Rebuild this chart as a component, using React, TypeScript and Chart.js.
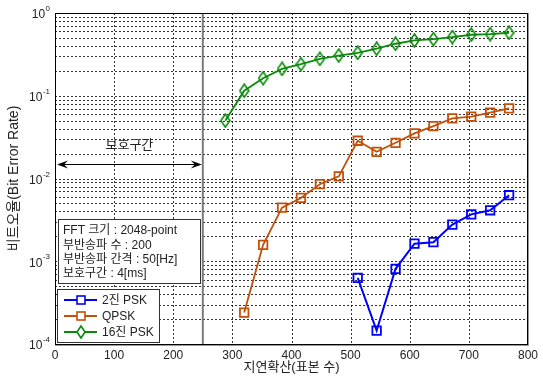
import React, { useEffect, useRef } from 'react';
import { Chart, registerables } from 'chart.js';

Chart.register(...registerables);

// ---------- data ----------
const psk2Delay = [512, 544, 576, 608, 640, 672, 704, 736, 768];
const psk2Ber = [0.00063, 0.000145, 0.00081, 0.00163, 0.0017, 0.00277, 0.00369, 0.00413, 0.00628];

const qpskDelay = [320, 352, 384, 416, 448, 480, 512, 544, 576, 608, 640, 672, 704, 736, 768];
const qpskBer = [0.00024, 0.00158, 0.00445, 0.00582, 0.00853, 0.0106, 0.0286, 0.021, 0.027, 0.0351, 0.043, 0.0533, 0.0558, 0.0624, 0.0705];

const psk16Delay = [288, 320, 352, 384, 416, 448, 480, 512, 544, 576, 608, 640, 672, 704, 736, 768];
const psk16Ber = [0.05, 0.115, 0.163, 0.211, 0.241, 0.279, 0.306, 0.33, 0.37, 0.425, 0.466, 0.484, 0.512, 0.546, 0.556, 0.577];

const seriesNames = ['2진 PSK', 'QPSK', '16진 PSK'];
const seriesColors = ['#0000ff', '#c0500a', '#0a8a0a'];

const xTickValues = [0, 100, 200, 300, 400, 500, 600, 700, 800];
const yDecadeExponents = [0, -1, -2, -3, -4];

const xTitle = '지연확산(표본 수)';
const yTitle = '비트오율(Bit Error Rate)';

const infoLines = ['FFT 크기 : 2048-point', '부반송파 수 : 200', '부반송파 간격 : 50[Hz]', '보호구간 : 4[ms]'];
const guardLabel = '보호구간';
const guardEnd = 250;
const guardArrowBer = 0.015;
const guardLabelBer = 0.025;

const FONT = "'Liberation Sans', Arial, 'Noto Sans CJK KR', sans-serif";

function makeDiamond(color: string): HTMLCanvasElement {
  const c = document.createElement('canvas');
  c.width = 11;
  c.height = 15;
  const ctx = c.getContext('2d')!;
  ctx.beginPath();
  ctx.moveTo(5.5, 1);
  ctx.lineTo(10, 7.5);
  ctx.lineTo(5.5, 14);
  ctx.lineTo(1, 7.5);
  ctx.closePath();
  ctx.strokeStyle = color;
  ctx.lineWidth = 1.6;
  ctx.stroke();
  return c;
}

const overlayPlugin = {
  id: 'overlay',
  beforeDatasetsDraw(chart: any) {
    const { ctx, chartArea, scales } = chart;
    const xs = scales.x;
    const ys = scales.y;
    ctx.save();
    // dashed grid
    ctx.strokeStyle = 'rgba(0,0,0,0.8)';
    ctx.lineWidth = 1;
    ctx.setLineDash([2, 2]);
    ctx.beginPath();
    for (const t of xs.ticks) {
      const px = Math.round(xs.getPixelForValue(t.value)) + 0.5;
      ctx.moveTo(px, chartArea.top);
      ctx.lineTo(px, chartArea.bottom);
    }
    for (const t of ys.ticks) {
      const py = Math.round(ys.getPixelForValue(t.value)) + 0.5;
      ctx.moveTo(chartArea.left, py);
      ctx.lineTo(chartArea.right, py);
    }
    ctx.stroke();
    ctx.setLineDash([]);
    // guard interval vertical line
    const gx = xs.getPixelForValue(guardEnd);
    ctx.strokeStyle = '#7a7a7a';
    ctx.lineWidth = 2;
    ctx.beginPath();
    ctx.moveTo(gx, chartArea.top);
    ctx.lineTo(gx, chartArea.bottom);
    ctx.stroke();
    // arrow
    const ay = Math.round(ys.getPixelForValue(guardArrowBer)) + 0.5;
    const ax0 = xs.getPixelForValue(0) + 2;
    const ax1 = gx - 1;
    ctx.strokeStyle = '#000';
    ctx.fillStyle = '#000';
    ctx.lineWidth = 1;
    ctx.beginPath();
    ctx.moveTo(ax0 + 4, ay);
    ctx.lineTo(ax1 - 4, ay);
    ctx.stroke();
    const head = (tipX: number, dir: number) => {
      ctx.beginPath();
      ctx.moveTo(tipX, ay);
      ctx.lineTo(tipX - dir * 11, ay - 4);
      ctx.lineTo(tipX - dir * 7, ay);
      ctx.lineTo(tipX - dir * 11, ay + 4);
      ctx.closePath();
      ctx.fill();
    };
    head(ax0, -1);
    head(ax1, 1);
    ctx.font = `13px ${FONT}`;
    ctx.textAlign = 'center';
    ctx.textBaseline = 'middle';
    ctx.fillStyle = '#222';
    ctx.fillText(guardLabel, (ax0 + ax1) / 2, ys.getPixelForValue(guardLabelBer));
    ctx.restore();
  },
  afterDraw(chart: any) {
    const { ctx, chartArea, scales } = chart;
    const ys = scales.y;
    ctx.save();
    // axes box
    ctx.strokeStyle = '#000';
    ctx.lineWidth = 1;
    ctx.strokeRect(chartArea.left + 0.5, chartArea.top + 0.5, chartArea.right - chartArea.left - 1, chartArea.bottom - chartArea.top);
    ctx.strokeStyle = '#999';
    ctx.beginPath();
    ctx.moveTo(chartArea.right + 0.5, chartArea.top);
    ctx.lineTo(chartArea.right + 0.5, chartArea.bottom + 1.5);
    ctx.moveTo(chartArea.left, chartArea.bottom + 1.5);
    ctx.lineTo(chartArea.right + 1, chartArea.bottom + 1.5);
    ctx.stroke();

    // y tick labels with superscripts
    ctx.fillStyle = '#222';
    for (const e of yDecadeExponents) {
      const y = ys.getPixelForValue(Math.pow(10, e));
      const sup = String(e);
      ctx.font = `8px ${FONT}`;
      const sw = ctx.measureText(sup).width;
      const right = chartArea.left - 5;
      ctx.textAlign = 'left';
      ctx.textBaseline = 'alphabetic';
      ctx.fillText(sup, right - sw, y - 2);
      ctx.font = `12px ${FONT}`;
      ctx.textAlign = 'right';
      ctx.textBaseline = 'middle';
      ctx.fillText('10', right - sw - 0.5, y + 2);
    }

    // info box
    const bx = 58, by = 219, bw = 142, bh = 64;
    ctx.fillStyle = '#fff';
    ctx.fillRect(bx, by, bw, bh);
    ctx.strokeStyle = '#333';
    ctx.strokeRect(bx + 0.5, by + 0.5, bw, bh);
    ctx.fillStyle = '#222';
    ctx.font = `12px ${FONT}`;
    ctx.textAlign = 'left';
    ctx.textBaseline = 'middle';
    infoLines.forEach((t, i) => ctx.fillText(t, bx + 5, by + 12 + i * 14.3));

    // legend box
    const lx = 57, ly = 289, lw = 102, lh = 53;
    ctx.fillStyle = '#fff';
    ctx.fillRect(lx, ly, lw, lh);
    ctx.strokeStyle = '#333';
    ctx.strokeRect(lx + 0.5, ly + 0.5, lw, lh);
    seriesNames.forEach((name, i) => {
      const cy = ly + 11 + i * 16;
      const color = seriesColors[i];
      ctx.strokeStyle = color;
      ctx.lineWidth = 1.8;
      ctx.beginPath();
      ctx.moveTo(lx + 7, cy);
      ctx.lineTo(lx + 40, cy);
      ctx.stroke();
      const mx = lx + 24;
      ctx.lineWidth = 1.6;
      if (i < 2) {
        ctx.fillStyle = '#fff';
        ctx.fillRect(mx - 4, cy - 4, 8, 8);
        ctx.strokeRect(mx - 4, cy - 4, 8, 8);
      } else {
        ctx.beginPath();
        ctx.moveTo(mx, cy - 6);
        ctx.lineTo(mx + 4, cy);
        ctx.lineTo(mx, cy + 6);
        ctx.lineTo(mx - 4, cy);
        ctx.closePath();
        ctx.fillStyle = '#fff';
        ctx.fill();
        ctx.stroke();
      }
      ctx.fillStyle = '#222';
      ctx.font = `12px ${FONT}`;
      ctx.textAlign = 'left';
      ctx.textBaseline = 'middle';
      ctx.fillText(name, lx + 45, cy + 1);
    });
    ctx.restore();
  },
};

export default function App() {
  const ref = useRef<HTMLCanvasElement | null>(null);

  useEffect(() => {
    if (!ref.current) return;
    const diamond = makeDiamond(seriesColors[2]);
    const toPts = (xs: number[], ys: number[]) => xs.map((x, i) => ({ x, y: ys[i] }));
    const chart = new Chart(ref.current, {
      type: 'line',
      data: {
        datasets: [
          {
            label: seriesNames[0],
            data: toPts(psk2Delay, psk2Ber),
            borderColor: seriesColors[0],
            backgroundColor: 'rgba(255,255,255,0)',
            borderWidth: 2,
            pointStyle: 'rect',
            pointRadius: 6,
            pointBorderWidth: 1.8,
            tension: 0,
          },
          {
            label: seriesNames[1],
            data: toPts(qpskDelay, qpskBer),
            borderColor: seriesColors[1],
            backgroundColor: 'rgba(255,255,255,0)',
            borderWidth: 1.8,
            pointStyle: 'rect',
            pointRadius: 6,
            pointBorderWidth: 1.8,
            tension: 0,
          },
          {
            label: seriesNames[2],
            data: toPts(psk16Delay, psk16Ber),
            borderColor: seriesColors[2],
            backgroundColor: 'rgba(255,255,255,0)',
            borderWidth: 1.8,
            pointStyle: diamond as any,
            pointRadius: 6,
            tension: 0,
          },
        ],
      },
      options: {
        responsive: false,
        animation: false,
        events: [],
        layout: { padding: { left: 0, top: 13, right: 15, bottom: 0 } },
        plugins: {
          legend: { display: false },
          tooltip: { enabled: false },
        },
        scales: {
          x: {
            type: 'linear',
            min: 0,
            max: 800,
            afterBuildTicks: (s: any) => {
              s.ticks = xTickValues.map((v) => ({ value: v }));
            },
            afterFit: (s: any) => {
              s.height = 34;
            },
            ticks: {
              autoSkip: false,
              maxRotation: 0,
              padding: 4,
              color: '#222',
              font: { family: FONT, size: 12 },
              callback: (v: any) => String(v),
            },
            grid: { display: false, drawTicks: false },
            border: { display: false },
            title: {
              display: true,
              text: xTitle,
              color: '#222',
              font: { family: FONT, size: 13 },
              padding: { top: 0, bottom: 3 },
            },
          },
          y: {
            type: 'logarithmic',
            min: 1e-4,
            max: 1,
            afterBuildTicks: (s: any) => {
              const t: any[] = [];
              for (const e of [-4, -3, -2, -1]) {
                for (let m = 1; m <= 9; m++) t.push({ value: m * Math.pow(10, e) });
              }
              t.push({ value: 1 });
              s.ticks = t;
            },
            afterFit: (s: any) => {
              s.width = 55;
            },
            ticks: {
              autoSkip: false,
              padding: 0,
              font: { family: FONT, size: 12 },
              callback: () => '',
            },
            grid: { display: false, drawTicks: false },
            border: { display: false },
            title: {
              display: true,
              text: yTitle,
              color: '#222',
              font: { family: FONT, size: 14 },
              padding: { top: 6, bottom: 0 },
            },
          },
        },
      } as any,
      plugins: [overlayPlugin as any],
    });
    return () => chart.destroy();
  }, []);

  return (
    <div style={{ position: 'absolute', left: 0, top: 0, width: 543, height: 378, background: '#fff' }}>
      <canvas ref={ref} width={543} height={378} style={{ display: 'block' }} />
    </div>
  );
}
